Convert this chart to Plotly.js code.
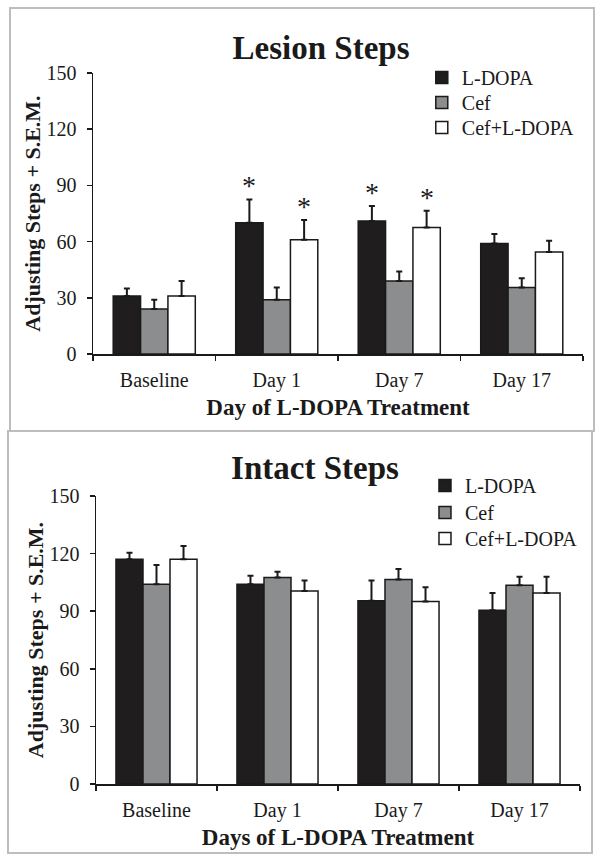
<!DOCTYPE html>
<html>
<head>
<meta charset="utf-8">
<script src="https://cdn.plot.ly/plotly-3.0.1.min.js"></script>
<style>
  html, body { margin: 0; padding: 0; background: #ffffff; }
  body { width: 604px; height: 864px; position: relative; overflow: hidden; }
  .plot { position: absolute; }
  .frame { position: absolute; border: 2px solid #bdbdbd; box-sizing: border-box; pointer-events: none; }
</style>
</head>
<body>
<div id="lesion" class="plot" style="left:10px; top:8px; width:584px; height:423px;"></div>
<div id="intact" class="plot" style="left:8px; top:431px; width:584px; height:422px;"></div>
<div class="frame" style="left:9px; top:7px; width:586px; height:425px;"></div>
<div class="frame" style="left:7px; top:430px; width:586px; height:424px;"></div>
<script>
// ---- data ----
const categories = ['Baseline', 'Day 1', 'Day 7', 'Day 17'];
const seriesNames = ['L-DOPA', 'Cef', 'Cef+L-DOPA'];

const lesionLdopa     = [31, 70, 71, 59];
const lesionLdopaErr  = [4, 12.5, 8, 5];
const lesionCef       = [24, 29, 39, 35.5];
const lesionCefErr    = [5, 6.5, 5, 5];
const lesionCefL      = [31, 61, 67.5, 54.5];
const lesionCefLErr   = [8, 10.5, 9, 6];
const lesionStarsLdopa = ['Day 1', 'Day 7'];
const lesionStarsCefL  = ['Day 1', 'Day 7'];

const intactLdopa     = [117, 104, 95.5, 90.5];
const intactLdopaErr  = [3.5, 4.5, 10.5, 9];
const intactCef       = [104, 107.5, 106.5, 103.5];
const intactCefErr    = [10, 3, 5.5, 4.5];
const intactCefL      = [117, 100.5, 95, 99.5];
const intactCefLErr   = [7, 5.5, 7.5, 8.5];

const yTicks = [0, 30, 60, 90, 120, 150];

// ---- styling ----
const FONT = '"Liberation Serif", "Times New Roman", serif';
const INK = '#1a1a1a';
const fills = ['#1f1d1e', '#8c8d8f', '#ffffff'];
const legendIds = ['legend', 'legend2', 'legend3'];
const BARGAP = 0.33;

function barTrace(i, y, err) {
  return {
    type: 'bar', name: seriesNames[i], x: categories, y: y,
    legend: legendIds[i],
    marker: { color: fills[i], line: { color: INK, width: 1.5 } },
    error_y: { type: 'data', symmetric: false, array: err,
               arrayminus: err.map(() => 0), color: INK,
               thickness: 2, width: 3 },
    hoverinfo: 'skip'
  };
}

function legendBox(x, y) {
  return { xref: 'paper', yref: 'paper', x: x, y: y,
           xanchor: 'left', yanchor: 'top', bgcolor: 'rgba(0,0,0,0)',
           borderwidth: 0,
           font: { family: FONT, size: 20, color: INK }, itemwidth: 30 };
}

function makeLayout(o) {
  const lay = {
    width: o.w, height: o.h,
    margin: o.margin,
    paper_bgcolor: '#ffffff', plot_bgcolor: '#ffffff',
    barmode: 'group', bargap: BARGAP, bargroupgap: 0,
    showlegend: true,
    font: { family: FONT, color: INK, size: 20 },
    title: { text: o.title, font: { family: FONT, size: 33, weight: 'bold', color: INK },
             xref: 'container', yref: 'container', x: o.titleX, y: o.titleY,
             xanchor: 'center', yanchor: 'middle' },
    xaxis: {
      type: 'category', categoryorder: 'array', categoryarray: categories,
      showline: true, linecolor: INK, linewidth: 1.5,
      ticks: 'outside', tickson: 'boundaries', ticklen: 5, tickwidth: 1.5, tickcolor: INK,
      tickfont: { family: FONT, size: 20, color: INK },
      ticklabelstandoff: 7,
      showgrid: false, zeroline: false, fixedrange: true,
      title: { text: o.xTitle, font: { family: FONT, size: 23, weight: 'bold', color: INK }, standoff: 8 }
    },
    yaxis: {
      range: [0, 150], tickvals: yTicks, ticktext: yTicks.map(String),
      showline: true, linecolor: INK, linewidth: 1.5,
      ticks: 'outside', ticklen: 5, tickwidth: 1.5, tickcolor: INK,
      tickfont: { family: FONT, size: 20, color: INK },
      ticklabelstandoff: 6,
      showgrid: false, zeroline: false, fixedrange: true,
      title: { text: o.yTitle, font: { family: FONT, size: 22, weight: 'bold', color: INK }, standoff: 0 }
    },
    annotations: o.annotations || []
  };
  legendIds.forEach((id, k) => { lay[id] = legendBox(o.legX, o.legY[k]); });
  return lay;
}

function starAnnotations(values, errs, starCats, offsetIndex, plotWidth) {
  const catW = plotWidth / categories.length;
  const barW = catW * (1 - BARGAP) / 3;
  return starCats.map(c => {
    const i = categories.indexOf(c);
    return {
      x: c, y: values[i] + errs[i], xref: 'x', yref: 'y',
      text: '*', showarrow: false,
      xshift: (offsetIndex - 1) * barW, yshift: -4,
      yanchor: 'bottom', xanchor: 'center',
      font: { family: FONT, size: 28, color: INK }
    };
  });
}

// ---- Lesion panel ----
const lesionMargin = { l: 83, r: 11, t: 65, b: 77 };
const lesionPlotW = 584 - lesionMargin.l - lesionMargin.r;
const lesionTraces = [
  barTrace(0, lesionLdopa, lesionLdopaErr),
  barTrace(1, lesionCef, lesionCefErr),
  barTrace(2, lesionCefL, lesionCefLErr)
];
const lesionAnn = starAnnotations(lesionLdopa, lesionLdopaErr, lesionStarsLdopa, 0, lesionPlotW)
  .concat(starAnnotations(lesionCefL, lesionCefLErr, lesionStarsCefL, 2, lesionPlotW));
Plotly.newPlot('lesion', lesionTraces, makeLayout({
  w: 584, h: 423, margin: lesionMargin,
  title: 'Lesion Steps', titleX: 311 / 584, titleY: 1 - 39 / 423,
  legX: 0.671, legY: [1.0534, 0.9644, 0.8754],
  xTitle: 'Day of L-DOPA Treatment', yTitle: 'Adjusting Steps + S.E.M.',
  annotations: lesionAnn
}), { staticPlot: true, displayModeBar: false });

// ---- Intact panel ----
const intactMargin = { l: 88, r: 9, t: 65, b: 69 };
const intactTraces = [
  barTrace(0, intactLdopa, intactLdopaErr),
  barTrace(1, intactCef, intactCefErr),
  barTrace(2, intactCefL, intactCefLErr)
];
Plotly.newPlot('intact', intactTraces, makeLayout({
  w: 584, h: 422, margin: intactMargin,
  title: 'Intact Steps', titleX: 307 / 584, titleY: 1 - 36 / 422,
  legX: 0.6797, legY: [1.1042, 1.0104, 0.9201],
  xTitle: 'Days of L-DOPA Treatment', yTitle: 'Adjusting Steps + S.E.M.'
}), { staticPlot: true, displayModeBar: false });
</script>
</body>
</html>
